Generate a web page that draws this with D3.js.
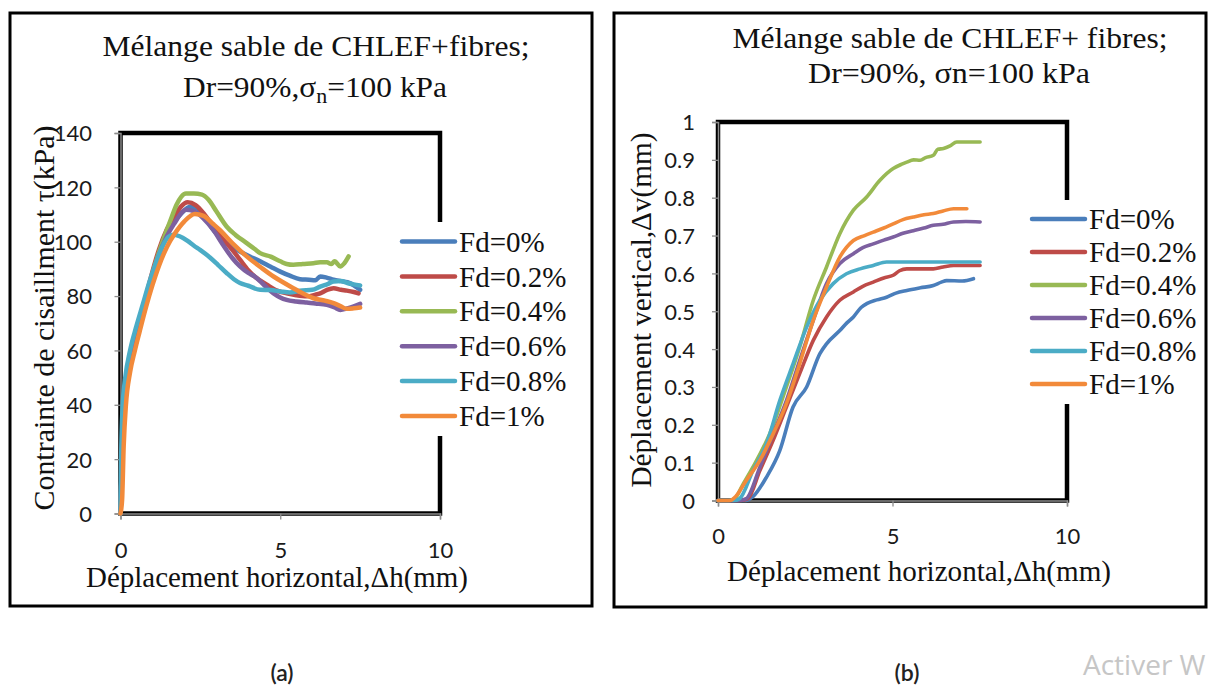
<!DOCTYPE html>
<html>
<head>
<meta charset="utf-8">
<script src="https://cdn.jsdelivr.net/npm/d3@7"></script>
<style>
  body { margin: 0; background: #fff; }
  svg { display: block; }
</style>
</head>
<body>
<svg id="fig" width="1209" height="686"></svg>
<script>
// Series shared by both panels (fibre content)
const seriesLabels = ["Fd=0%", "Fd=0.2%", "Fd=0.4%", "Fd=0.6%", "Fd=0.8%", "Fd=1%"];
const seriesColors = ["#4a7ebb", "#be4b48", "#98b954", "#7d60a0", "#4bacc6", "#f28a3a"];

// Axis ticks
const xTicks = [0, 5, 10];
const tauTicks = [0, 20, 40, 60, 80, 100, 120, 140];
const dvTicks = [0, 0.1, 0.2, 0.3, 0.4, 0.5, 0.6, 0.7, 0.8, 0.9, 1];
const dvTickLabels = ["0", "0.1", "0.2", "0.3", "0.4", "0.5", "0.6", "0.7", "0.8", "0.9", "1"];

// (a) shear stress τ (kPa) vs horizontal displacement Δh (mm)
const tau_Fd0 = [[0,0],[0.03,15],[0.08,32],[0.18,46],[0.35,57],[0.55,67],[0.8,78],[1.0,87],[1.2,95],[1.45,102.5],[1.7,107.5],[1.95,111],[2.17,112.8],[2.4,112.3],[2.65,109],[2.9,104.4],[3.2,100.5],[3.5,98],[3.74,96.4],[4.0,94.8],[4.37,92.8],[4.7,90.8],[5.0,89],[5.3,87.5],[5.62,86.2],[5.9,86],[6.1,85.8],[6.25,87.2],[6.45,86.8],[6.67,86],[6.9,85.5],[7.1,85.1],[7.3,84],[7.5,82.3]];
const tau_Fd02 = [[0,0],[0.03,15],[0.08,32],[0.18,46],[0.35,57],[0.55,68],[0.8,80],[1.0,89],[1.2,97],[1.45,104.5],[1.7,109.5],[1.9,113],[2.1,114.5],[2.35,113.5],[2.6,110.5],[2.9,105.6],[3.2,101],[3.5,97],[3.74,93.4],[4.0,89.5],[4.2,87.2],[4.58,84.2],[4.9,82],[5.2,81],[5.5,80.3],[5.83,79.9],[6.1,80.5],[6.25,81],[6.45,82.2],[6.67,82.9],[6.9,82.3],[7.08,82],[7.3,81.5],[7.45,81]];
const tau_Fd04 = [[0,0],[0.03,15],[0.08,32],[0.18,46],[0.35,57],[0.55,67],[0.8,79],[1.0,88],[1.2,96],[1.44,104],[1.6,109],[1.75,113.5],[1.9,116.5],[2.05,117.7],[2.3,117.7],[2.55,117.3],[2.75,115.5],[3.0,111.2],[3.32,105.6],[3.6,102.5],[3.95,99.5],[4.2,97.3],[4.37,95.8],[4.7,94.5],[5.0,92.8],[5.2,91.8],[5.41,91.5],[5.7,91.8],[6.04,92.1],[6.25,92.4],[6.46,92.4],[6.6,91.8],[6.7,92.8],[6.88,90.9],[7.0,92],[7.14,94.6]];
const tau_Fd06 = [[0,0],[0.03,15],[0.08,32],[0.18,46],[0.35,57],[0.55,67],[0.8,78],[1.0,87],[1.2,95],[1.45,102],[1.7,107],[1.9,110.5],[2.05,111.8],[2.3,111.2],[2.6,108.5],[2.9,104.4],[3.2,99],[3.5,94],[3.74,90.9],[4.0,88.5],[4.2,87.2],[4.5,84],[4.79,81],[5.0,79.5],[5.2,78.6],[5.5,78],[5.83,77.6],[6.1,77.3],[6.46,76.8],[6.7,75.8],[6.88,74.9],[7.1,75.5],[7.3,76.2],[7.5,77.1]];
const tau_Fd08 = [[0,0],[0.02,20],[0.06,38],[0.15,50],[0.3,60],[0.5,69],[0.7,77],[0.9,85],[1.1,92],[1.34,99],[1.5,101.8],[1.65,102.6],[1.85,102],[2.1,100.3],[2.3,98.5],[2.49,97],[2.8,94.2],[3.05,91.5],[3.32,88.5],[3.55,86.2],[3.74,84.8],[4.0,83.8],[4.37,82.3],[4.7,82.2],[5.0,81.7],[5.3,81.3],[5.62,82],[6.0,82.3],[6.25,83.5],[6.5,84.5],[6.67,85.4],[6.9,85.5],[7.1,84.8],[7.3,84.3],[7.5,83.9]];
const tau_Fd1 = [[0,0],[0.05,5],[0.1,25],[0.17,40],[0.3,52],[0.45,60],[0.6,67],[0.8,76],[1.0,84],[1.2,91],[1.45,98],[1.7,103],[2.0,107.5],[2.33,110.2],[2.6,109.5],[2.9,106.5],[3.1,104.4],[3.5,99.5],[3.95,94.6],[4.4,90.5],[4.79,87.2],[5.1,85],[5.41,82.9],[5.7,81],[6.04,79.2],[6.4,78.3],[6.67,77.4],[6.9,76.2],[7.08,75.3],[7.3,75.5],[7.5,75.8]];

// (b) vertical displacement Δv (mm) vs horizontal displacement Δh (mm)
const dv_Fd0 = [[0,0],[0.8,0],[1.0,0.01],[1.39,0.062],[1.77,0.132],[2.15,0.247],[2.54,0.3],[2.92,0.388],[3.11,0.414],[3.49,0.449],[3.7,0.47],[3.88,0.485],[4.1,0.51],[4.26,0.52],[4.55,0.53],[4.83,0.537],[5.1,0.548],[5.41,0.555],[5.8,0.562],[6.17,0.568],[6.4,0.577],[6.55,0.581],[7.0,0.58],[7.32,0.586]];
const dv_Fd02 = [[0,0],[0.65,0],[0.86,0.005],[1.2,0.079],[1.58,0.159],[1.96,0.247],[2.34,0.335],[2.73,0.423],[3.11,0.485],[3.49,0.529],[3.88,0.551],[4.15,0.566],[4.45,0.577],[4.75,0.588],[5.02,0.595],[5.2,0.607],[5.41,0.612],[5.8,0.612],[6.17,0.612],[6.45,0.617],[6.75,0.621],[7.1,0.621],[7.51,0.621]];
const dv_Fd04 = [[0,0],[0.3,0],[0.48,0.005],[0.7,0.04],[1.0,0.088],[1.48,0.176],[1.96,0.3],[2.34,0.405],[2.73,0.529],[3.11,0.617],[3.49,0.705],[3.88,0.767],[4.26,0.802],[4.64,0.846],[5.02,0.877],[5.25,0.888],[5.41,0.894],[5.6,0.9],[5.79,0.899],[5.95,0.906],[6.17,0.912],[6.3,0.928],[6.46,0.93],[6.65,0.937],[6.84,0.947],[7.1,0.947],[7.51,0.947]];
const dv_Fd06 = [[0,0],[0.6,0],[0.81,0.005],[1.2,0.088],[1.58,0.176],[1.96,0.264],[2.34,0.37],[2.73,0.476],[3.11,0.573],[3.49,0.626],[3.88,0.652],[4.15,0.668],[4.45,0.678],[4.75,0.688],[5.02,0.696],[5.3,0.706],[5.6,0.713],[5.9,0.72],[6.17,0.727],[6.45,0.73],[6.75,0.736],[7.1,0.737],[7.51,0.736]];
const dv_Fd08 = [[0,0],[0.45,0],[0.62,0.005],[1.0,0.079],[1.39,0.15],[1.77,0.264],[2.15,0.361],[2.54,0.458],[2.92,0.529],[3.3,0.573],[3.68,0.599],[4.07,0.612],[4.45,0.621],[4.83,0.63],[5.5,0.63],[6.5,0.63],[7.51,0.63]];
const dv_Fd1 = [[0,0],[0.35,0],[0.5,0.01],[0.81,0.053],[1.2,0.106],[1.58,0.176],[1.96,0.256],[2.34,0.361],[2.73,0.476],[3.11,0.564],[3.49,0.643],[3.88,0.687],[4.2,0.7],[4.45,0.709],[4.75,0.72],[5.02,0.731],[5.3,0.742],[5.6,0.749],[5.9,0.755],[6.17,0.758],[6.45,0.765],[6.75,0.771],[7.13,0.771]];

const serif = "'Liberation Serif', 'Times New Roman', serif";
const sans = "Lato, 'Open Sans', sans-serif";
const svg = d3.select("#fig");

function drawPanel(p) {
  const g = svg.append("g");

  // panel frame
  g.append("rect")
    .attr("x", p.box[0]).attr("y", p.box[1])
    .attr("width", p.box[2] - p.box[0]).attr("height", p.box[3] - p.box[1])
    .attr("fill", "#fff").attr("stroke", "#000").attr("stroke-width", 3);

  // title
  p.title.forEach(t => {
    const txt = g.append("text")
      .attr("x", t.x).attr("y", t.y)
      .attr("text-anchor", "middle")
      .attr("font-family", serif).attr("font-size", t.size)
      .attr("fill", "#111")
      .attr("textLength", t.len).attr("lengthAdjust", "spacingAndGlyphs");
    t.parts.forEach(part => {
      const ts = txt.append("tspan").text(part.s);
      if (part.sub) ts.attr("baseline-shift", "-28%").attr("font-size", t.size * 0.7);
    });
  });

  const x = d3.scaleLinear().domain([0, 10]).range([p.plot.left, p.plot.right]);
  const y = d3.scaleLinear().domain(p.yDomain).range([p.plot.bottom, p.plot.top]);

  // plot-area border
  g.append("rect")
    .attr("x", p.plot.left).attr("y", p.plot.top)
    .attr("width", p.plot.right - p.plot.left).attr("height", p.plot.bottom - p.plot.top)
    .attr("fill", "none").attr("stroke", "#000").attr("stroke-width", 4.5);

  // axes
  const yAxis = d3.axisLeft(y).tickValues(p.yTicks).tickSize(6).tickFormat((d, i) => p.yLabels[i]);
  const xAxis = d3.axisBottom(x).tickValues(xTicks).tickSize(6).tickFormat(d3.format("d"));

  const ya = g.append("g").attr("transform", `translate(${p.plot.left},0)`).call(yAxis);
  const xa = g.append("g").attr("transform", `translate(0,${p.plot.bottom})`).call(xAxis);
  [ya, xa].forEach(a => {
    a.select(".domain").attr("stroke", "#8c8c8c").attr("stroke-width", 1.5);
    a.selectAll(".tick line").attr("stroke", "#8c8c8c").attr("stroke-width", 1.3);
    a.selectAll(".tick text").attr("font-family", sans).attr("font-size", 22).attr("fill", "#1a1a1a");
  });
  ya.selectAll(".tick text").attr("x", p.yLabelX - p.plot.left).attr("dy", "0.36em");
  xa.selectAll(".tick text").attr("y", p.xLabelY - p.plot.bottom).attr("dy", "0.36em");

  // axis titles
  g.append("text")
    .attr("transform", `translate(${p.yTitle.x},${p.yTitle.y}) rotate(-90)`)
    .attr("text-anchor", "middle").attr("dominant-baseline", "central")
    .attr("font-family", serif).attr("font-size", 30).attr("fill", "#111")
    .attr("textLength", p.yTitle.len).attr("lengthAdjust", "spacingAndGlyphs")
    .text(p.yTitle.text);
  g.append("text")
    .attr("x", p.xTitle.x).attr("y", p.xTitle.y)
    .attr("text-anchor", "middle")
    .attr("font-family", serif).attr("font-size", 29).attr("fill", "#111")
    .attr("textLength", p.xTitle.len).attr("lengthAdjust", "spacingAndGlyphs")
    .text(p.xTitle.text);

  // legend (white background breaks the plot border)
  g.append("rect")
    .attr("x", p.legend.bg[0]).attr("y", p.legend.bg[1])
    .attr("width", p.legend.bg[2] - p.legend.bg[0]).attr("height", p.legend.bg[3] - p.legend.bg[1])
    .attr("fill", "#fff");

  // data lines
  const line = d3.line().x(d => x(d[0])).y(d => y(d[1])).curve(d3.curveMonotoneX);
  p.series.forEach((s, i) => {
    g.append("path").datum(s)
      .attr("d", line)
      .attr("fill", "none")
      .attr("stroke", seriesColors[i])
      .attr("stroke-width", p.lineWidth)
      .attr("stroke-linejoin", "round").attr("stroke-linecap", "round");
  });

  seriesLabels.forEach((lab, i) => {
    const ly = p.legend.y0 + i * p.legend.dy;
    g.append("line")
      .attr("x1", p.legend.x0).attr("x2", p.legend.x1)
      .attr("y1", ly).attr("y2", ly)
      .attr("stroke", seriesColors[i]).attr("stroke-width", 4.5)
      .attr("stroke-linecap", "round");
    g.append("text")
      .attr("x", p.legend.tx).attr("y", ly)
      .attr("dy", "0.35em")
      .attr("font-family", serif).attr("font-size", 29).attr("fill", "#111")
      .text(lab);
  });
}

drawPanel({
  box: [10, 13, 592, 606],
  plot: { left: 120.5, right: 440, top: 133, bottom: 513.5 },
  yDomain: [0, 140],
  yTicks: tauTicks,
  yLabels: tauTicks.map(String),
  yLabelX: 92,
  xLabelY: 550,
  title: [
    { x: 316, y: 56, size: 30, len: 427, parts: [{ s: "Mélange sable de CHLEF+fibres;" }] },
    { x: 315, y: 97, size: 30, len: 264, parts: [{ s: "Dr=90%,σ" }, { s: "n", sub: true }, { s: "=100 kPa" }] }
  ],
  yTitle: { x: 43, y: 318, len: 385, text: "Contrainte de cisaillment  τ(kPa)" },
  xTitle: { x: 277, y: 587, len: 382, text: "Déplacement  horizontal,Δh(mm)" },
  legend: { bg: [395, 222, 586, 436], x0: 402, x1: 455, tx: 459, y0: 241.5, dy: 34.9 },
  lineWidth: 4.5,
  series: [tau_Fd0, tau_Fd02, tau_Fd04, tau_Fd06, tau_Fd08, tau_Fd1]
});

drawPanel({
  box: [614, 13, 1206, 607],
  plot: { left: 718, right: 1067, top: 122, bottom: 500.5 },
  yDomain: [0, 1],
  yTicks: dvTicks,
  yLabels: dvTickLabels,
  yLabelX: 695,
  xLabelY: 536,
  title: [
    { x: 950, y: 48, size: 30, len: 435, parts: [{ s: "Mélange sable de CHLEF+ fibres;" }] },
    { x: 949, y: 83, size: 30, len: 282, parts: [{ s: "Dr=90%, σn=100 kPa" }] }
  ],
  yTitle: { x: 640, y: 310, len: 355, text: "Déplacement  vertical,Δv(mm)" },
  xTitle: { x: 919, y: 581, len: 384, text: "Déplacement  horizontal,Δh(mm)" },
  legend: { bg: [1025, 200, 1200, 404], x0: 1032, x1: 1085, tx: 1089, y0: 219, dy: 33 },
  lineWidth: 3.6,
  series: [dv_Fd0, dv_Fd02, dv_Fd04, dv_Fd06, dv_Fd08, dv_Fd1]
});

// sub-figure captions
svg.append("text").attr("x", 282).attr("y", 681).attr("text-anchor", "middle")
  .attr("font-family", sans).attr("font-size", 23).attr("font-weight", 600)
  .attr("fill", "#222").text("(a)");
svg.append("text").attr("x", 907).attr("y", 681).attr("text-anchor", "middle")
  .attr("font-family", sans).attr("font-size", 23).attr("font-weight", 600)
  .attr("fill", "#222").text("(b)");

// desktop activation overlay text at the lower right edge
svg.append("text").attr("x", 1083).attr("y", 675)
  .attr("font-family", "'Open Sans', sans-serif").attr("font-size", 28)
  .attr("fill", "#c6c6c6").text("Activer W");
</script>
</body>
</html>
